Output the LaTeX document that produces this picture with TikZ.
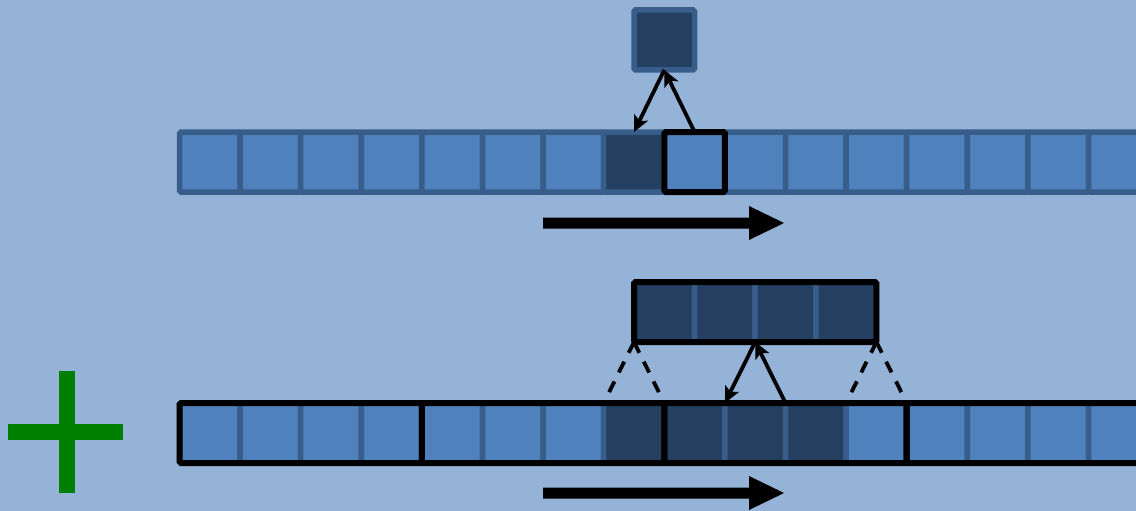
\documentclass[tikz,border=0pt]{standalone}
\usetikzlibrary{arrows.meta}
\definecolor{bg}{HTML}{95B3D7}
\definecolor{cellfill}{HTML}{4F81BD}
\definecolor{cellborder}{HTML}{385D8A}
\definecolor{darkfill}{HTML}{243F60}
\definecolor{plusgreen}{HTML}{008000}
\tikzset{
  cell/.style={draw=cellborder, fill=cellfill, line width=5.5pt, rounded corners=1.5pt,
    minimum width=60.6pt, minimum height=60pt, inner sep=0pt, outer sep=0pt},
  darkcell/.style={cell, fill=darkfill},
  groupbox/.style={draw=black, line width=6pt, rounded corners=1.5pt},
  thinarrow/.style={draw=black, line width=3.8pt, -{Stealth[length=16pt,width=15pt,inset=3.5pt]}},
  dashline/.style={draw=black, line width=3.8pt, dash pattern=on 12pt off 10pt},
  bigarrow/.style={fill=black},
  plusbar/.style={fill=plusgreen}
}
\begin{document}
\begin{tikzpicture}[x=1pt,y=-1pt]
\useasboundingbox (0,0) rectangle (1136,511);
\clip (0,0) rectangle (1136,511);
\fill[bg] (0,0) rectangle (1136,511);

% top row
\foreach \i in {0,...,15}{
  \ifnum\i=7
    \node[darkcell] (t\i) at ({209.8+60.6*\i},162) {};
  \else
    \node[cell] (t\i) at ({209.8+60.6*\i},162) {};
  \fi
}
\draw[groupbox] (t8.north west) rectangle (t8.south east);
% single top cell
\node[darkcell] (tc) at (664.3,40) {};
\draw[thinarrow] (tc.south) -- (t7.north);
\draw[thinarrow] (t8.north) -- (tc.south);

% big arrow 1
\fill[bigarrow] (543,217.5) -- (749,217.5) -- (749,206) -- (784,223) -- (749,240) -- (749,228.5) -- (543,228.5) -- cycle;

% bottom row
\foreach \i in {0,...,15}{
  \pgfmathtruncatemacro{\dk}{(\i==7)||(\i==8)||(\i==9)||(\i==10)}
  \ifnum\dk=1
    \node[darkcell] (b\i) at ({209.8+60.6*\i},433) {};
  \else
    \node[cell] (b\i) at ({209.8+60.6*\i},433) {};
  \fi
}
\draw[groupbox] (b0.north west) rectangle (b3.south east);
\draw[groupbox] (b4.north west) rectangle (b7.south east);
\draw[groupbox] (b8.north west) rectangle (b11.south east);
\draw[groupbox] (b12.north west) rectangle (b15.south east);

% block
\foreach \k in {0,...,3}{
  \node[darkcell] (k\k) at ({664.3+60.6*\k},312) {};
}
\node[groupbox, minimum width=242.4pt, minimum height=60pt, inner sep=0pt, outer sep=0pt] (blk) at (755.2,312) {};

\draw[dashline] (blk.south west) -- (b7.north west);
\draw[dashline] (blk.south west) -- (b7.north east);
\draw[dashline] (blk.south east) -- (b11.north west);
\draw[dashline] (blk.south east) -- (b11.north east);
\draw[thinarrow] (blk.south) -- (b9.north west);
\draw[thinarrow] (b10.north west) -- (blk.south);

% big arrow 2
\fill[bigarrow] (543,487.5) -- (749,487.5) -- (749,476) -- (784,493) -- (749,510) -- (749,498.5) -- (543,498.5) -- cycle;

% green plus
\fill[plusgreen] (59,371) rectangle (75,493);
\fill[plusgreen] (8,424) rectangle (123,440);
\end{tikzpicture}
\end{document}
